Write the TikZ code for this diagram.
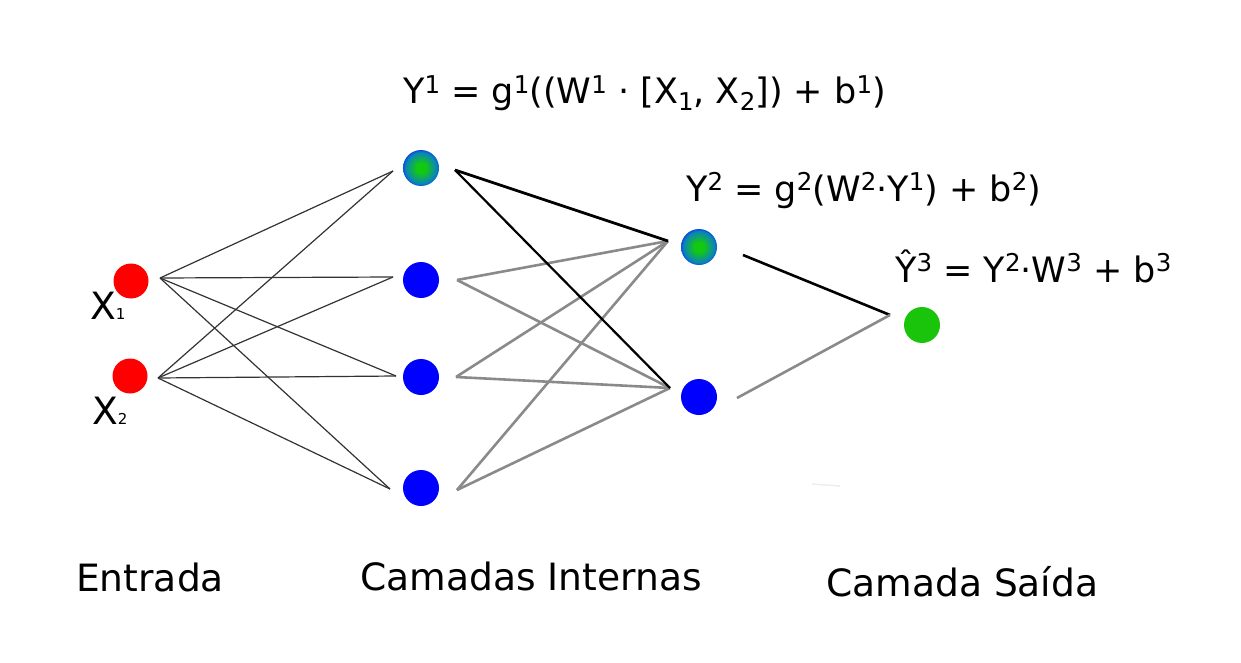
\documentclass[tikz,border=0pt]{standalone}
\usepackage{fontspec}
\setmainfont{DejaVu Sans}
\usepackage{graphicx}

% Colours
\definecolor{inred}{RGB}{255,0,0}
\definecolor{hidblue}{RGB}{0,0,255}
\definecolor{outgreen}{RGB}{26,196,10}
\definecolor{gradgreen}{RGB}{18,200,18}
\definecolor{gradteal}{RGB}{10,130,190}
\definecolor{wgray}{RGB}{138,138,138}
\pgfdeclareradialshading{actgrad}{\pgfpoint{0bp}{0bp}}{color(0bp)=(gradgreen); color(7bp)=(gradgreen); color(22bp)=(gradteal); color(30bp)=(hidblue); color(50bp)=(hidblue)}

% Super- and subscripts in text
\newcommand\up[1]{\raisebox{0.3em}{\scalebox{0.7}{#1}}}
\newcommand\dn[1]{\raisebox{-0.2em}{\scalebox{0.7}{#1}}}
\newcommand\tinysub[1]{{\fontsize{15}{15}\selectfont #1}}

\tikzset{
  neuron/.style={circle, inner sep=0pt, minimum size=36pt},
  inneuron/.style={neuron, fill=inred, minimum size=35pt},
  hidneuron/.style={neuron, fill=hidblue},
  actneuron/.style={neuron, shading=actgrad},
  outneuron/.style={neuron, fill=outgreen},
  wthin/.style={black!80, line width=1.2pt},
  wdark/.style={black, line width=2.2pt},
  wlight/.style={wgray, line width=2.6pt},
  formula/.style={font=\fontsize{35}{42}\selectfont, anchor=base west, inner sep=0pt},
  caption/.style={font=\fontsize{37.6}{44}\selectfont, anchor=base west, inner sep=0pt}
}

\begin{document}
\begin{tikzpicture}[x=1pt, y=-1pt]
    \useasboundingbox (0,0) rectangle (1241,663);

    % Input layer
    \node[inneuron] (x1) at (131,281) {};
    \node[inneuron] (x2) at (130,376) {};
    \node[caption, anchor=base west] (x1lab) at (90,319) {X\tinysub{1}};
    \node[caption, anchor=base west] (x2lab) at (92,424) {X\tinysub{2}};

    % Hidden layer 1
    \node[actneuron] (h1) at (421,168) {};
    \node[hidneuron] (h2) at (421,280) {};
    \node[hidneuron] (h3) at (421,377) {};
    \node[hidneuron] (h4) at (421,488) {};

    % Hidden layer 2
    \node[actneuron] (o1) at (699,247) {};
    \node[hidneuron] (o2) at (699,397) {};

    % Output
    \node[outneuron] (y) at (922,325) {};

    % Line ends
    \coordinate (x1o) at (160,278);
    \coordinate (x2o) at (158,378);
    \coordinate (h1i) at (393,171);
    \coordinate (h2i) at (393,277);
    \coordinate (h3i) at (396,376);
    \coordinate (h4i) at (390,489);
    \coordinate (h1o) at (455,170);
    \coordinate (h2o) at (457,280);
    \coordinate (h3o) at (456,377);
    \coordinate (h4o) at (457,490);
    \coordinate (o1i) at (668,241);
    \coordinate (o2i) at (670,388);
    \coordinate (o1o) at (743,255);
    \coordinate (o2o) at (737,398);
    \coordinate (yi) at (890,315);

    % Input -> hidden 1
    \foreach \s in {x1o,x2o}
        \foreach \t in {h1i,h2i,h3i,h4i}
            \draw[wthin] (\s) -- (\t);

    % Hidden 1 -> hidden 2
    \foreach \s in {h2o,h3o,h4o}
        \foreach \t in {o1i,o2i}
            \draw[wlight] (\s) -- (\t);
    \draw[wdark, line width=2.8pt] (h1o) -- (o1i);
    \draw[wdark] (h1o) -- (o2i);

    % Hidden 2 -> output
    \draw[wdark, line width=2.6pt] (o1o) -- (yi);
    \draw[wlight] (o2o) -- (yi);

    % faint mark
    \coordinate (fa) at (812,484);
    \coordinate (fb) at (840,486);
    \draw[black!7, line width=1.5pt] (fa) -- (fb);

    % Formulas
    \node[formula] (f1) at (403,104) {Y\up{1} = g\up{1}((W\up{1} · [X\dn{1}, X\dn{2}]) + b\up{1})};
    \node[formula] (f2) at (686,201) {Y\up{2} = g\up{2}(W\up{2}·Y\up{1}) + b\up{2})};
    \node[formula] (f3) at (895,282) {Ŷ\up{3} = Y\up{2}·W\up{3} + b\up{3}};

    % Layer names
    \node[caption] (lin) at (76,591) {Entrada};
    \node[caption] (lhid) at (360,590) {Camadas Internas};
    \node[caption] (lout) at (826,596) {Camada Saída};
\end{tikzpicture}
\end{document}
